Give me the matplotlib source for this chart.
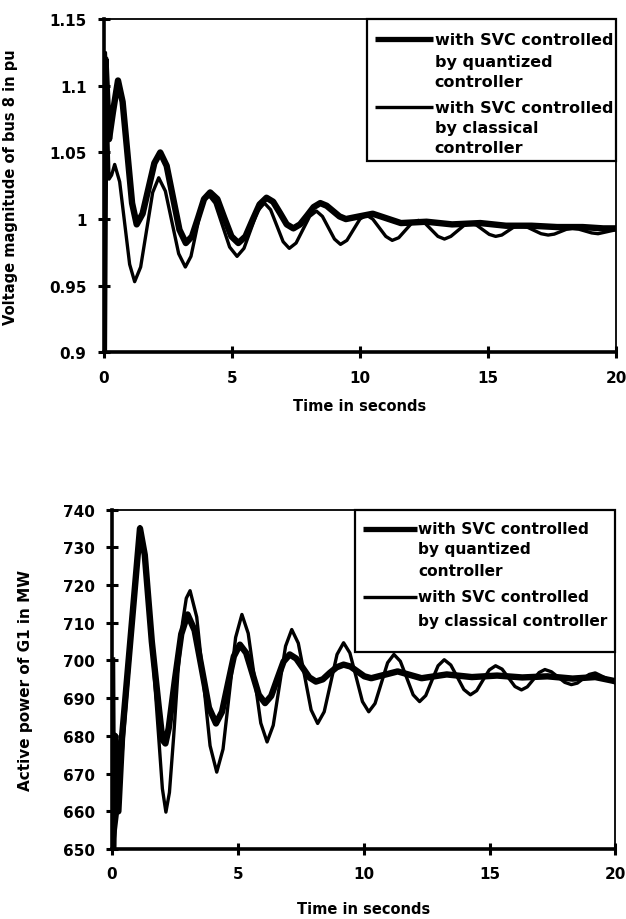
import matplotlib
matplotlib.use("Agg")
import matplotlib.pyplot as plt
from matplotlib.patches import Rectangle
from matplotlib.lines import Line2D

plt.rcParams["font.family"] = ["DejaVu Sans"]
plt.rcParams["font.weight"] = "bold"

# ── top panel: voltage magnitude of bus 8 (pu) ──
t_v_quant = [0, 0.06, 0.2, 0.35, 0.55, 0.73, 0.915, 1.10, 1.28, 1.51, 1.74, 1.97, 2.2,
             2.45, 2.7, 2.95, 3.2, 3.44, 3.68, 3.91, 4.15, 4.43, 4.7, 4.98, 5.25,
             5.53, 5.8, 6.08, 6.35, 6.61, 6.88, 7.14, 7.4, 7.66, 7.93, 8.19, 8.45,
             8.7, 8.95, 9.2, 9.45, 9.97, 10.5, 11.05, 11.6, 12.1, 12.6, 13.1, 13.6,
             14.15, 14.7, 15.2, 15.7, 16.7, 17.7, 18.7, 19.5, 20]
v_quant = [0.90, 1.12, 1.06, 1.08, 1.104, 1.088, 1.050, 1.012, 0.996, 1.004, 1.023, 1.042, 1.050,
           1.040, 1.016, 0.992, 0.982, 0.987, 1.001, 1.015, 1.020, 1.015, 1.001, 0.987, 0.982,
           0.987, 0.999, 1.011, 1.016, 1.013, 1.0045, 0.996, 0.993, 0.996, 1.0025, 1.009, 1.012,
           1.010, 1.006, 1.002, 1.000, 1.002, 1.004, 1.0005, 0.997, 0.9975, 0.998, 0.997, 0.996,
           0.9965, 0.997, 0.996, 0.995, 0.995, 0.994, 0.994, 0.993, 0.993]

t_v_class = [0, 0.06, 0.2, 0.3, 0.42, 0.615, 0.81, 1.005, 1.2, 1.435, 1.67, 1.905, 2.14,
             2.4, 2.66, 2.92, 3.18, 3.4, 3.615, 3.83, 4.05, 4.34, 4.625, 4.91, 5.2,
             5.47, 5.735, 6.0, 6.27, 6.51, 6.755, 7.0, 7.24, 7.505, 7.77, 8.035, 8.3,
             8.535, 8.77, 9.005, 9.24, 9.49, 9.745, 10.0, 10.25, 10.5, 10.755, 11.01, 11.26,
             11.515, 11.77, 12.025, 12.28, 12.535, 12.79, 13.045, 13.3, 13.55, 13.8, 14.05, 14.3,
             14.55, 14.8, 15.05, 15.3, 15.54, 15.775, 16.01, 16.25, 16.525, 16.8, 17.075, 17.35,
             17.59, 17.825, 18.06, 18.3, 18.55, 18.8, 19.05, 19.3, 19.65, 20]
v_class = [0.90, 1.125, 1.03, 1.033, 1.041, 1.028, 0.997, 0.966, 0.953, 0.964, 0.992, 1.020, 1.031,
           1.021, 0.9975, 0.974, 0.964, 0.972, 0.9915, 1.011, 1.019, 1.012, 0.9955, 0.979, 0.972,
           0.978, 0.992, 1.006, 1.012, 1.007, 0.995, 0.983, 0.978, 0.982, 0.992, 1.002, 1.006,
           1.002, 0.9935, 0.985, 0.981, 0.984, 0.992, 1.000, 1.003, 1.000, 0.9935, 0.987, 0.984,
           0.986, 0.9915, 0.997, 0.999, 0.997, 0.992, 0.987, 0.985, 0.987, 0.991, 0.995, 0.997,
           0.9955, 0.992, 0.9885, 0.987, 0.988, 0.991, 0.994, 0.995, 0.994, 0.9915, 0.989, 0.988,
           0.9887, 0.9905, 0.9923, 0.993, 0.9924, 0.991, 0.9896, 0.989, 0.9905, 0.992]

# ── bottom panel: active power of G1 (MW) ──
t_p_quant = [0, 0.04, 0.12, 0.25, 0.4, 1.11, 1.3, 1.58, 1.85, 2.0, 2.12, 2.25, 2.5, 2.75, 3.0,
             3.28, 3.565, 3.85, 4.13, 4.37, 4.605, 4.84, 5.08, 5.33, 5.58, 5.83, 6.08,
             6.325, 6.57, 6.815, 7.06, 7.32, 7.58, 7.84, 8.1, 8.375, 8.65, 8.925, 9.2,
             9.475, 9.75, 10.025, 10.3, 10.825, 11.35, 11.825, 12.3, 13.3, 14.3, 15.3,
             16.3, 17.3, 18.3, 19.2, 20]
p_quant = [700, 650, 680, 660, 680, 735, 728, 705, 688, 679, 678, 682, 695, 707, 712.2,
           708.0, 697.8, 687.5, 683.3, 686.4, 693.8, 701.1, 704.2, 702.0, 696.5, 690.9, 688.7,
           690.6, 695.2, 699.7, 701.6, 700.5, 698.0, 695.5, 694.4, 695.0, 696.7, 698.2, 698.9,
           698.4, 697.1, 695.8, 695.3, 696.2, 697.1, 696.2, 695.3, 696.3, 695.6, 696.0,
           695.5, 695.8, 695.2, 695.6, 694.5]

t_p_class = [0, 0.04, 0.22, 1.11, 1.3, 1.6, 1.85, 2.0, 2.14, 2.28, 2.45, 2.62, 2.8, 2.95, 3.1,
             3.365, 3.63, 3.895, 4.16, 4.41, 4.66, 4.91, 5.16, 5.41, 5.66, 5.91, 6.16,
             6.405, 6.65, 6.895, 7.14, 7.4, 7.655, 7.91, 8.17, 8.43, 8.685, 8.94, 9.2,
             9.45, 9.7, 9.95, 10.2, 10.45, 10.7, 10.95, 11.2, 11.455, 11.71, 11.965, 12.22,
             12.465, 12.71, 12.955, 13.2, 13.46, 13.72, 13.98, 14.24, 14.49, 14.74, 14.99, 15.24,
             15.5, 15.755, 16.01, 16.27, 16.5, 16.735, 16.97, 17.2, 17.46, 17.725, 17.99, 18.25,
             18.49, 18.725, 18.96, 19.2, 19.6, 20]
p_class = [700, 650, 660, 735.5, 727, 703, 680, 666, 659.8, 665, 680, 697, 710, 716.5, 718.5,
           711.5, 694.5, 677.4, 670.4, 676.5, 691.3, 706.1, 712.2, 707.2, 695.3, 683.4, 678.4,
           682.8, 693.3, 703.8, 708.2, 704.6, 695.8, 686.9, 683.3, 686.4, 694.0, 701.6, 704.7,
           702.0, 695.6, 689.1, 686.4, 688.6, 694.0, 699.4, 701.6, 699.8, 695.4, 690.9, 689.1,
           690.7, 694.7, 698.6, 700.2, 698.8, 695.6, 692.3, 690.9, 692.0, 694.8, 697.5, 698.6,
           697.7, 695.4, 693.1, 692.2, 693.0, 694.9, 696.8, 697.6, 697.0, 695.6, 694.2, 693.6,
           694.0, 695.2, 696.3, 696.7, 695.4, 694.0]

x_ticks = [0, 5, 10, 15, 20]
v_ticks = [0.9, 0.95, 1.0, 1.05, 1.1, 1.15]
v_tick_labels = ["0.9", "0.95", "1", "1.05", "1.1", "1.15"]
p_ticks = [650, 660, 670, 680, 690, 700, 710, 720, 730, 740]

legend_quant = ["with SVC controlled", "by quantized", "controller"]
legend_class_top = ["with SVC controlled", "by classical", "controller"]
legend_class_bot = ["with SVC controlled", "by classical controller"]

INK = "#000000"
LW_Q, LW_C = 4.6, 2.4


def style_axes(ax):
    for side in ("left", "bottom"):
        ax.spines[side].set_linewidth(2.6)
    for side in ("top", "right"):
        ax.spines[side].set_linewidth(1.3)
    ax.tick_params(axis="both", direction="inout", length=9, width=2.2,
                   labelsize=11, pad=8, colors=INK)
    for lbl in ax.get_xticklabels() + ax.get_yticklabels():
        lbl.set_fontweight("bold")


def draw_legend(ax, box, x_line, x_text, rows, fs):
    # box = (x0, y0) in axes coords, extends to top-right corner
    ax.add_patch(Rectangle(box, 1 - box[0], 1 - box[1], transform=ax.transAxes,
                           fill=False, ec=INK, lw=1.6, zorder=6, clip_on=False))
    for lines, ys, lw in rows:
        ax.add_line(Line2D(x_line, [ys[0], ys[0]], transform=ax.transAxes,
                           color=INK, lw=lw, zorder=7, solid_capstyle="butt"))
        for s, y in zip(lines, ys):
            ax.text(x_text, y, s, transform=ax.transAxes, fontsize=fs,
                    fontweight="bold", va="center", ha="left", zorder=7)


fig = plt.figure(figsize=(6.26, 9.2), dpi=100, facecolor="white")
ax1 = fig.add_axes([0.166, 0.616, 0.818, 0.362])
ax2 = fig.add_axes([0.179, 0.076, 0.804, 0.369])

# top panel
ax1.plot(t_v_quant, v_quant, color=INK, lw=LW_Q, solid_joinstyle="round")
ax1.plot(t_v_class, v_class, color=INK, lw=LW_C, solid_joinstyle="round")
ax1.set_xlim(0, 20)
ax1.set_ylim(0.9, 1.15)
ax1.set_xticks(x_ticks)
ax1.set_yticks(v_ticks)
ax1.set_yticklabels(v_tick_labels)
style_axes(ax1)
ax1.set_xlabel("Time in seconds", fontsize=10.5, fontweight="bold")
ax1.set_ylabel("Voltage magnitude of bus 8 in pu", fontsize=10.5, fontweight="bold")
ax1.xaxis.set_label_coords(0.5, -0.138)
ax1.yaxis.set_label_coords(-0.168, 0.5)
draw_legend(ax1, (0.514, 0.574), [0.529, 0.643], 0.646,
            [(legend_quant, [0.940, 0.874, 0.814], 3.8),
             (legend_class_top, [0.736, 0.676, 0.616], 2.4)], 11.5)

# bottom panel
ax2.plot(t_p_quant, p_quant, color=INK, lw=LW_Q, solid_joinstyle="round")
ax2.plot(t_p_class, p_class, color=INK, lw=LW_C, solid_joinstyle="round")
ax2.set_xlim(0, 20)
ax2.set_ylim(650, 740)
ax2.set_xticks(x_ticks)
ax2.set_yticks(p_ticks)
style_axes(ax2)
ax2.set_xlabel("Time in seconds", fontsize=10.5, fontweight="bold")
ax2.set_ylabel("Active power of G1 in MW", fontsize=11, fontweight="bold")
ax2.xaxis.set_label_coords(0.5, -0.152)
ax2.yaxis.set_label_coords(-0.157, 0.5)
draw_legend(ax2, (0.483, 0.581), [0.499, 0.606], 0.608,
            [(legend_quant, [0.944, 0.885, 0.820], 3.8),
             (legend_class_bot, [0.743, 0.673], 2.4)], 11.1)

fig.savefig("out.png", dpi=100, facecolor="white")
